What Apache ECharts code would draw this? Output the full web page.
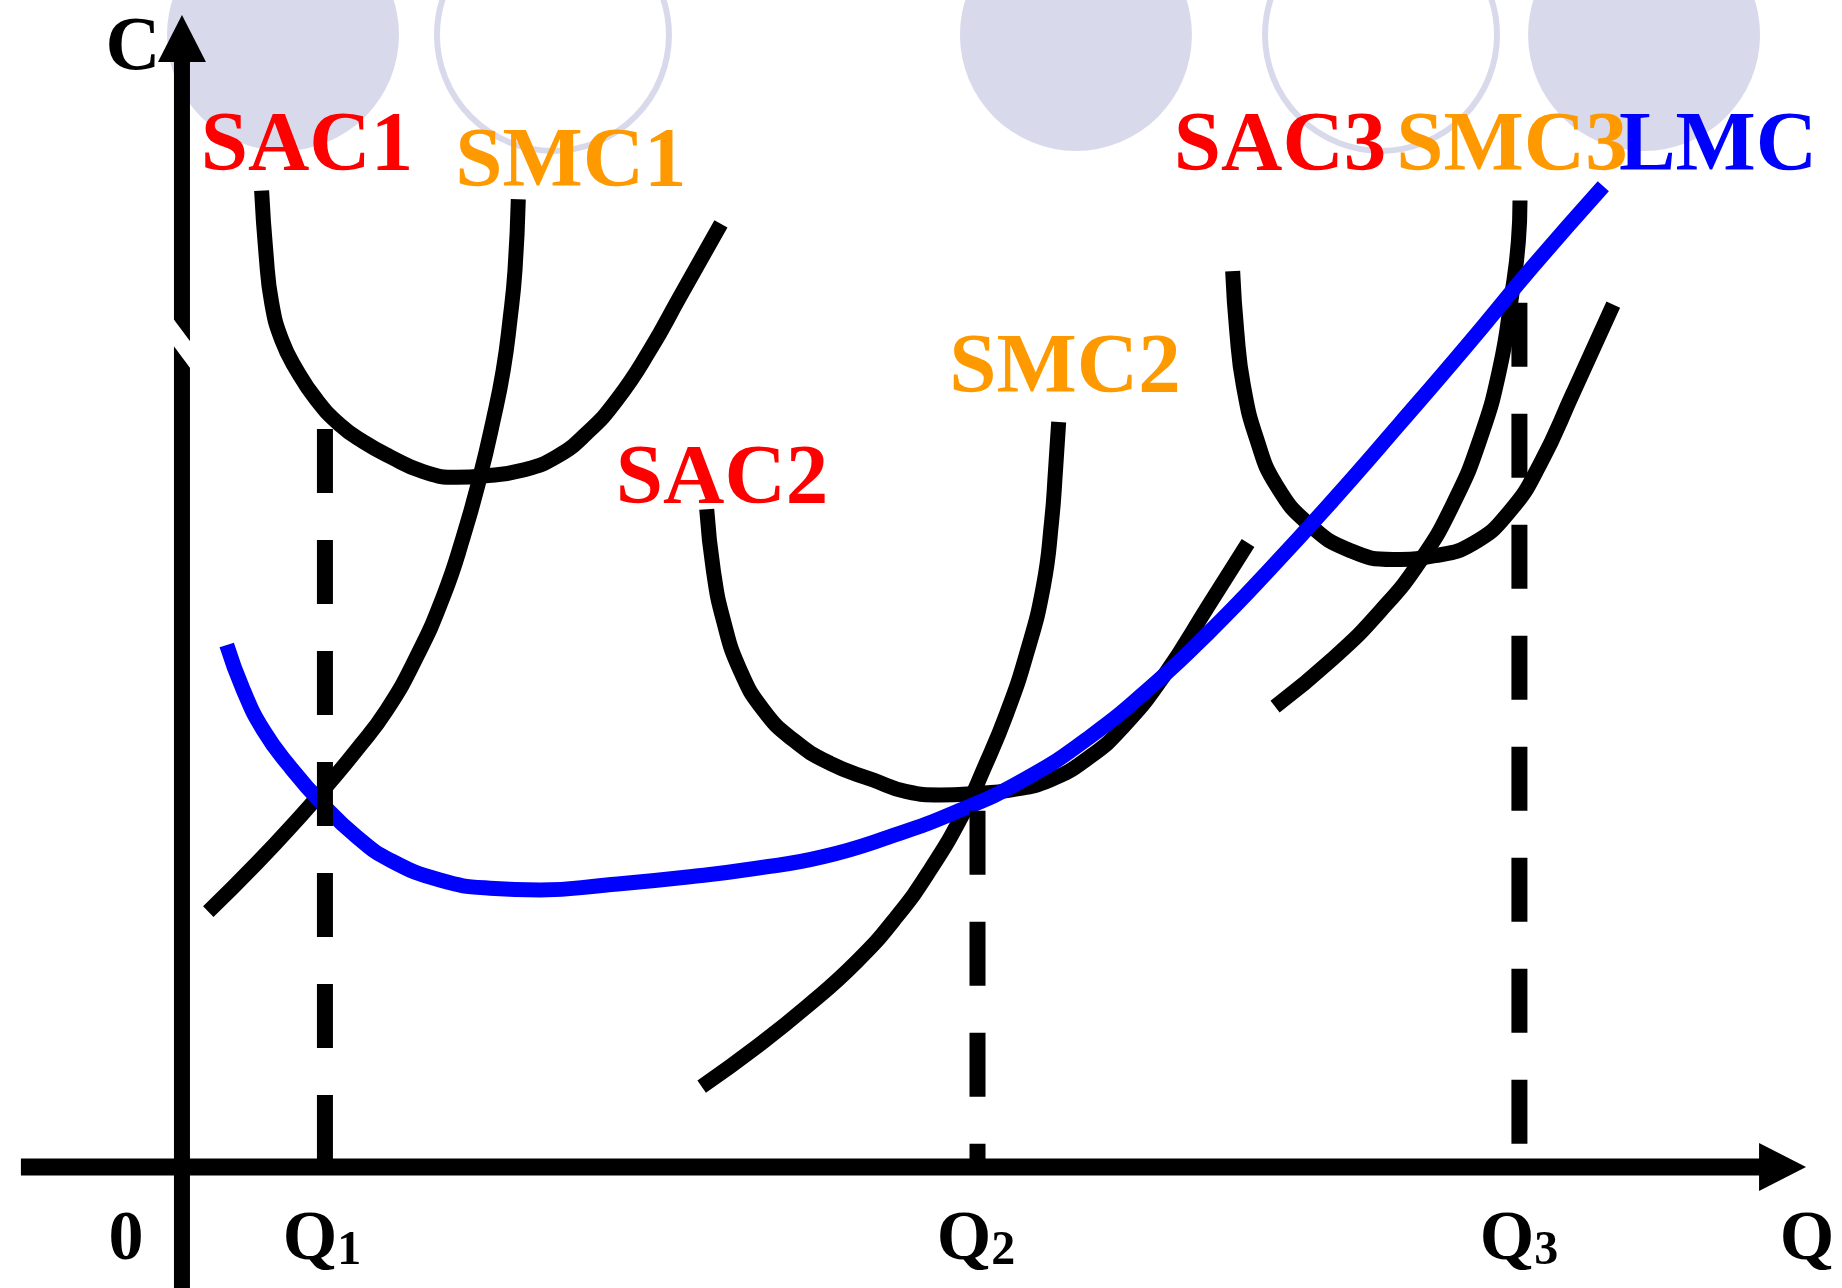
<!DOCTYPE html>
<html>
<head>
<meta charset="utf-8">
<script src="https://cdn.jsdelivr.net/npm/echarts/dist/echarts.min.js"></script>
<style>
html,body{margin:0;padding:0;background:#ffffff;}
#chart{width:1842px;height:1288px;}
</style>
</head>
<body>
<div id="chart"></div>
<script>
// ---- Data (chart units: Q on x, C on y) ----
const SAC1 = [[6.78,83.11],[7.15,77.78],[7.64,73.53],[8.49,70.40],[9.76,67.85],[11.47,65.29],[13.45,63.17],[15.43,61.74],[17.71,60.47],[20.54,59.19],[23.38,58.71],[25.65,58.82],[29.05,59.33],[31.90,60.47],[34.45,62.46],[37.01,65.29],[39.84,69.55],[42.39,74.09],[45.88,80.28]];
const SMC1 = [[2.24,21.73],[6.36,25.85],[10.05,29.82],[12.17,32.25],[14.87,35.50],[17.43,38.90],[19.98,43.44],[22.24,48.55],[23.95,53.66],[25.37,58.76],[26.50,63.59],[27.35,67.85],[27.92,72.10],[28.35,76.36],[28.63,82.38]];
const SAC2 = [[44.67,55.99],[45.23,50.82],[46.08,46.57],[47.50,42.31],[49.49,38.90],[52.04,36.35],[55.16,34.37],[58.85,32.94],[61.69,31.95],[64.53,31.67],[67.65,31.81],[70.49,32.09],[73.89,32.94],[77.30,34.93],[80.13,37.48],[83.54,41.74],[87.51,47.99],[90.75,53.12]];
const SMC2 = [[44.24,6.84],[48.92,10.24],[53.18,13.65],[57.44,17.48],[60.84,21.31],[63.68,25.28],[66.51,30.11],[68.21,33.80],[70.21,38.62],[71.91,43.73],[73.32,49.40],[74.04,55.08],[74.36,59.30],[74.63,63.41]];
const SAC3 = [[89.44,76.26],[89.79,71.12],[90.35,66.54],[91.49,61.96],[93.19,57.98],[96.02,54.63],[99.43,52.48],[103.12,51.72],[106.52,52.02],[109.93,53.09],[113.05,55.84],[115.60,59.82],[118.44,65.93],[121.84,73.41]];
const SMC3 = [[93.05,39.19],[98.01,43.31],[101.98,47.29],[105.39,51.57],[108.22,56.46],[110.50,61.96],[112.20,68.07],[113.19,74.18],[113.76,78.76],[113.90,82.28]];
const LMC  = [[3.81,44.44],[5.22,40.61],[6.92,37.20],[9.19,34.08],[12.03,30.82],[14.87,28.12],[17.71,26.13],[21.96,24.43],[26.22,23.73],[30.48,23.58],[36.15,24.01],[43.25,24.71],[48.92,25.43],[54.59,26.42],[60.27,28.12],[65.95,30.25],[71.62,32.94],[77.30,36.63],[82.97,41.30],[87.51,45.60],[92.34,50.60],[98.01,56.80],[103.69,63.30],[109.36,69.90],[115.03,76.70],[120.99,83.49]];

// quantity markers (Q1, Q2, Q3) and the heights where their dashed guides start
const qTicks = [12.17, 67.72, 113.85];
const qGuideTops = [62.83, 30.33, 73.57];

// axis extents
const qAxisRange = [-13.71, 138.25];   // horizontal axis: start, arrow tip
const cAxisRange = [-11.0, 98.07];     // vertical axis: start, arrow tip
const cAxisBreak = [[-1.3, 71.82], [1.3, 68.33]];

// curve labels
const curveLabelTexts = ['C','SAC1','SMC1','SAC2','SMC2','SAC3','SMC3','LMC'];
const curveLabelAnchors = [[-4.17,95.1],[10.64,86.75],[33.11,85.4],[45.97,58.35],[75.17,67.85],[93.47,86.75],[113.22,86.75],[130.76,86.75]];
// axis tick labels
const tickLabelTexts = ['0','Q1','Q2','Q3','Q'];
const tickLabelX = [-4.77, 11.92, 67.6, 113.82, 138.33];
const tickLabelY = -6.3;

// decorative circles at the top
const circleCenters = [[8.60,96.37],[31.58,96.37],[76.10,96.37],[102.07,96.37],[124.46,96.37]];
const circleFilled = [true,false,true,false,true];

// ---- chart ----
const UNIT_PX = 11.747; // pixels per chart unit (for arrow offsets)
const ARROW_LEN = 47, ARROW_W = 48;
const lavender = '#D9D9EC';
const colorFor = t => t.startsWith('SAC') ? '#FF0000' : t.startsWith('SMC') ? '#FF9900' : t === 'LMC' ? '#0000FF' : '#000000';
const serif = "'Liberation Serif','Times New Roman',serif";

const chart = echarts.init(document.getElementById('chart'), null, {renderer: 'canvas'});

const series = [];

// circles
series.push({
  type: 'scatter', z: 0, silent: true, symbol: 'circle', symbolSize: 232,
  data: circleCenters.map((c, i) => ({
    value: c,
    itemStyle: circleFilled[i] ? {color: lavender, opacity: 1} : {color: 'rgba(0,0,0,0)', borderColor: lavender, borderWidth: 6, opacity: 1}
  }))
});

// black curves
[['SAC1', SAC1], ['SMC1', SMC1], ['SAC2', SAC2], ['SMC2', SMC2], ['SAC3', SAC3], ['SMC3', SMC3]].forEach(([name, d]) => {
  series.push({
    name, type: 'line', data: d, smooth: 0.5, symbol: 'none', z: 3,
    lineStyle: {color: '#000', width: 15, cap: 'butt', join: 'round'}
  });
});
// LMC
series.push({
  name: 'LMC', type: 'line', data: LMC, smooth: 0.5, symbol: 'none', z: 4,
  lineStyle: {color: '#0000FF', width: 15, cap: 'butt', join: 'round'}
});

// dashed guides
qTicks.forEach((q, i) => {
  series.push({
    type: 'line', data: [[q, qGuideTops[i]], [q, 0]], symbol: 'none', z: 5,
    lineStyle: {color: '#000', width: 16, type: [64, 47], cap: 'butt'}
  });
});

// axes lines
const arrowOff = ARROW_LEN / UNIT_PX;
series.push({
  type: 'line', data: [[qAxisRange[0], 0], [qAxisRange[1] - arrowOff * 0.9, 0]], symbol: 'none', z: 6,
  lineStyle: {color: '#000', width: 17}
});
series.push({
  type: 'line', data: [[0, cAxisRange[0]], [0, cAxisRange[1] - arrowOff * 0.9]], symbol: 'none', z: 6,
  lineStyle: {color: '#000', width: 16}
});
// axis break (white gap)
series.push({
  type: 'line', data: cAxisBreak, symbol: 'none', z: 7,
  lineStyle: {color: '#ffffff', width: 16}
});
// arrowheads
series.push({
  type: 'scatter', z: 8, silent: true, symbol: 'triangle',
  data: [
    {value: [qAxisRange[1] - arrowOff / 2, 0], symbolSize: [ARROW_W, ARROW_LEN], symbolRotate: -90},
    {value: [0, cAxisRange[1] - arrowOff / 2], symbolSize: [ARROW_W, ARROW_LEN], symbolRotate: 0}
  ],
  itemStyle: {color: '#000', opacity: 1}
});

// curve labels
series.push({
  type: 'scatter', z: 10, silent: true, symbolSize: 1, itemStyle: {color: 'rgba(0,0,0,0)', opacity: 1},
  data: curveLabelTexts.map((t, i) => ({
    value: curveLabelAnchors[i],
    label: {
      show: true, position: 'inside', formatter: t, opacity: 1,
      color: colorFor(t), fontFamily: serif, fontWeight: 'bold',
      fontSize: t === 'C' ? 76 : 85
    }
  }))
});

// tick labels
series.push({
  type: 'scatter', z: 10, silent: true, symbolSize: 1, itemStyle: {color: 'rgba(0,0,0,0)', opacity: 1},
  data: tickLabelTexts.map((t, i) => ({
    value: [tickLabelX[i], tickLabelY],
    label: {
      show: true, position: 'inside', opacity: 1,
      formatter: t.length === 2 ? '{q|' + t[0] + '}{s|' + t[1] + '}' : '{q|' + t + '}',
      rich: {
        q: {fontFamily: serif, fontWeight: 'bold', fontSize: 70, color: '#000'},
        s: {fontFamily: serif, fontWeight: 'bold', fontSize: 48, color: '#000', verticalAlign: 'bottom'}
      }
    }
  }))
});

chart.setOption({
  animation: false,
  backgroundColor: '#ffffff',
  grid: {left: 0, right: 0, top: 0, bottom: 0, containLabel: false},
  xAxis: {type: 'value', min: -15.49, max: 141.31, show: false},
  yAxis: {type: 'value', min: -10.30, max: 99.34, show: false},
  series
});
</script>
</body>
</html>
